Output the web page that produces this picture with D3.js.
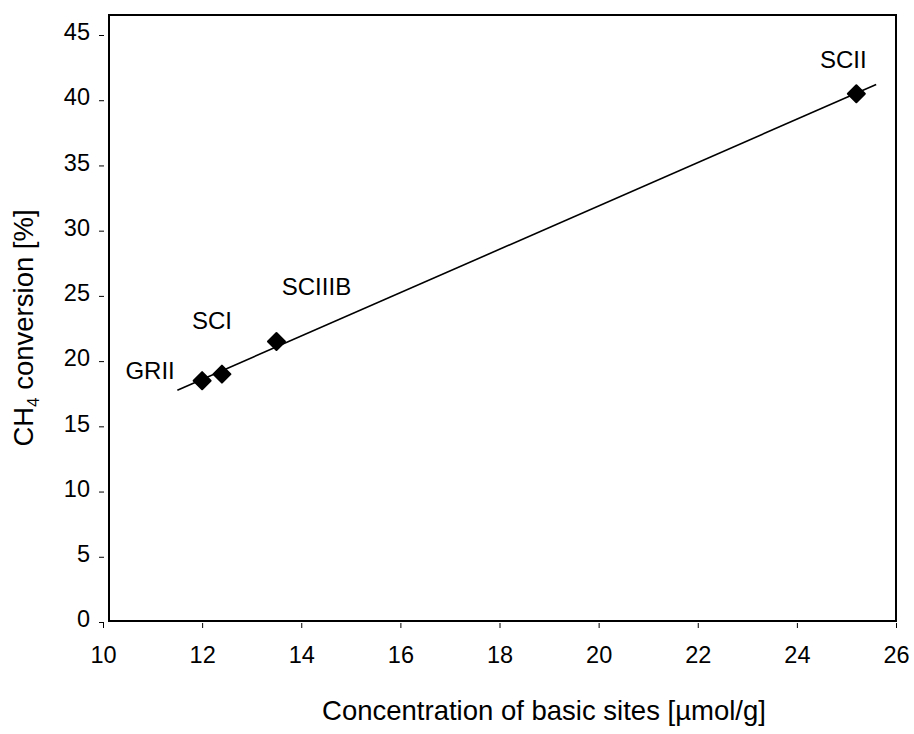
<!DOCTYPE html>
<html>
<head>
<meta charset="utf-8">
<script src="https://cdn.jsdelivr.net/npm/d3@7"></script>
<style>
  html, body { margin: 0; padding: 0; background: #fff; }
  svg { display: block; font-family: "Liberation Sans", Arial, sans-serif; }
</style>
</head>
<body>
<div id="chart"></div>
<script>
// data
const samples = ["GRII", "SCI", "SCIIIB", "SCII"];
const basicSites = [12.0, 12.4, 13.5, 25.2];   // µmol/g
const conversion = [18.5, 19.0, 21.5, 40.5];   // %
const xTicks = [10, 12, 14, 16, 18, 20, 22, 24, 26];
const yTicks = [0, 5, 10, 15, 20, 25, 30, 35, 40, 45];
const fitRange = [11.5, 25.6];

// label placement relative to the marker (styling, not data)
const labelOffset = {
  GRII:   { dx: -52, dy: -2 },
  SCI:    { dx: -10, dy: -45 },
  SCIIIB: { dx: 40, dy: -47 },
  SCII:   { dx: -13, dy: -26 }
};

const W = 914, H = 734;
const frame = { left: 109, top: 15, right: 896, bottom: 621 };
const FONT = "Liberation Sans, Arial, sans-serif";

const x = d3.scaleLinear().domain([10, 26]).range([103, 896]);
const y = d3.scaleLinear().domain([0, 45]).range([622, 35]);

const svg = d3.select("#chart").append("svg")
  .attr("width", W).attr("height", H);

// plot frame
svg.append("rect")
  .attr("x", frame.left).attr("y", frame.top)
  .attr("width", frame.right - frame.left)
  .attr("height", frame.bottom - frame.top)
  .attr("fill", "none").attr("stroke", "#000").attr("stroke-width", 2);

// y axis (detached ticks to the left of the frame)
const yAxis = d3.axisLeft(y).tickValues(yTicks).tickSize(5).tickPadding(9);
const gy = svg.append("g").attr("transform", "translate(104,0)").call(yAxis);
gy.select(".domain").remove();
gy.selectAll("text").attr("font-size", 23.5).attr("dy", "0.2em")
  .attr("fill", "#000").attr("font-family", FONT);
gy.selectAll("line").attr("stroke", "#000");

// x axis (ticks under the frame)
const xAxis = d3.axisBottom(x).tickValues(xTicks).tickSize(5).tickPadding(18);
const gx = svg.append("g").attr("transform", "translate(0,623)").call(xAxis);
gx.select(".domain").remove();
gx.selectAll("text").attr("font-size", 23.5).attr("fill", "#000").attr("font-family", FONT);
gx.selectAll("line").attr("stroke", "#000");

// least-squares fit line
const n = basicSites.length;
const mx = d3.mean(basicSites), my = d3.mean(conversion);
let sxy = 0, sxx = 0;
for (let i = 0; i < n; i++) {
  sxy += (basicSites[i] - mx) * (conversion[i] - my);
  sxx += (basicSites[i] - mx) ** 2;
}
const slope = sxy / sxx, icpt = my - slope * mx;

svg.append("line")
  .attr("x1", x(fitRange[0])).attr("y1", y(icpt + slope * fitRange[0]))
  .attr("x2", x(fitRange[1])).attr("y2", y(icpt + slope * fitRange[1]))
  .attr("stroke", "#000").attr("stroke-width", 1.6);

// diamond markers
const pts = samples.map((s, i) => ({ name: s, bx: basicSites[i], cv: conversion[i] }));
const r = 8.5;
svg.append("g").selectAll("path")
  .data(pts).join("path")
  .attr("d", `M0,${-r}L${r},0L0,${r}L${-r},0Z`)
  .attr("transform", d => `translate(${x(d.bx)},${y(d.cv)})`)
  .attr("fill", "#000").attr("stroke", "#000")
  .attr("stroke-width", 2).attr("stroke-linejoin", "round");

// sample labels
svg.append("g").selectAll("text")
  .data(pts).join("text")
  .attr("x", d => x(d.bx) + labelOffset[d.name].dx)
  .attr("y", d => y(d.cv) + labelOffset[d.name].dy)
  .attr("text-anchor", "middle")
  .attr("font-size", 24)
  .text(d => d.name);

// axis titles
svg.append("text")
  .attr("x", 544).attr("y", 720)
  .attr("text-anchor", "middle").attr("font-size", 27.5)
  .text("Concentration of basic sites [µmol/g]");

const yt = svg.append("text")
  .attr("transform", "translate(33,328) rotate(-90)")
  .attr("text-anchor", "middle").attr("font-size", 27.5);
yt.append("tspan").text("CH");
yt.append("tspan").attr("font-size", 17).attr("dy", 6).text("4");
yt.append("tspan").attr("dy", -6).text(" conversion [%]");
</script>
</body>
</html>
